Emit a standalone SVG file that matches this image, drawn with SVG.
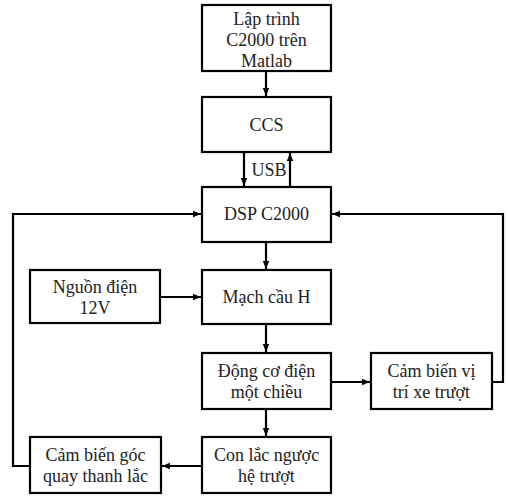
<svg xmlns="http://www.w3.org/2000/svg" width="508" height="496" viewBox="0 0 508 496">
<defs>
<marker id="ah" markerWidth="8" markerHeight="8" viewBox="0 0 8 8" refX="8" refY="4" orient="auto" markerUnits="userSpaceOnUse">
<path d="M0,0.8 L8,4 L0,7.2 Z" fill="#000"/>
</marker>
</defs>
<style>
.box{fill:#fff;stroke:#000;stroke-width:2.2}
.ln{fill:none;stroke:#000;stroke-width:2.2;marker-end:url(#ah)}
</style>
<rect width="508" height="496" fill="#fff"/>
<g id="connectors">
<path class="ln" d="M266,71 V96"/>
<path class="ln" d="M244,152 V186"/>
<path class="ln" d="M290,187 V153"/>
<path class="ln" d="M266,242 V269"/>
<path class="ln" d="M160,297 H201"/>
<path class="ln" d="M266,324 V352"/>
<path class="ln" d="M331,382 H370"/>
<path class="ln" d="M266,409 V436"/>
<path class="ln" d="M202,466 H162"/>
<path class="ln" d="M30,466 H13 V214 H201"/>
<path class="ln" d="M492,382 H503 V214 H332"/>
<text x="269" y="176" font-family="Liberation Serif" font-size="18" fill="#222" text-anchor="middle">USB</text>
</g>
<g id="n1"><rect class="box" x="202" y="5" width="129" height="66"/>
<text x="266.5" y="25" font-family="Liberation Serif" font-size="18" fill="#222" text-anchor="middle">Lập trình</text>
<text x="266.5" y="46" font-family="Liberation Serif" font-size="18" fill="#222" text-anchor="middle">C2000 trên</text>
<text x="266.5" y="67" font-family="Liberation Serif" font-size="18" fill="#222" text-anchor="middle">Matlab</text></g>
<g id="n2"><rect class="box" x="202" y="97" width="129" height="55"/>
<text x="266.5" y="131" font-family="Liberation Serif" font-size="18" fill="#222" text-anchor="middle">CCS</text></g>
<g id="n3"><rect class="box" x="202" y="187" width="129" height="55"/>
<text x="266.5" y="220" font-family="Liberation Serif" font-size="18" fill="#222" text-anchor="middle">DSP C2000</text></g>
<g id="n4"><rect class="box" x="30" y="270" width="130" height="53"/>
<text x="95" y="293" font-family="Liberation Serif" font-size="18" fill="#222" text-anchor="middle">Nguồn điện</text>
<text x="95" y="314" font-family="Liberation Serif" font-size="18" fill="#222" text-anchor="middle">12V</text></g>
<g id="n5"><rect class="box" x="202" y="270" width="129" height="54"/>
<text x="266.5" y="303" font-family="Liberation Serif" font-size="18" fill="#222" text-anchor="middle">Mạch cầu H</text></g>
<g id="n6"><rect class="box" x="202" y="353" width="129" height="56"/>
<text x="266.5" y="377" font-family="Liberation Serif" font-size="18" fill="#222" text-anchor="middle">Động cơ điện</text>
<text x="266.5" y="398" font-family="Liberation Serif" font-size="18" fill="#222" text-anchor="middle">một chiều</text></g>
<g id="n7"><rect class="box" x="371" y="353" width="121" height="56"/>
<text x="431.5" y="377" font-family="Liberation Serif" font-size="18" fill="#222" text-anchor="middle">Cảm biến vị</text>
<text x="431.5" y="398" font-family="Liberation Serif" font-size="18" fill="#222" text-anchor="middle">trí xe trượt</text></g>
<g id="n8"><rect class="box" x="202" y="437" width="129" height="56"/>
<text x="266.5" y="461" font-family="Liberation Serif" font-size="18" fill="#222" text-anchor="middle">Con lắc ngược</text>
<text x="266.5" y="482" font-family="Liberation Serif" font-size="18" fill="#222" text-anchor="middle">hệ trượt</text></g>
<g id="n9"><rect class="box" x="30" y="437" width="131" height="56"/>
<text x="95.5" y="461" font-family="Liberation Serif" font-size="18" fill="#222" text-anchor="middle">Cảm biến góc</text>
<text x="95.5" y="482" font-family="Liberation Serif" font-size="18" fill="#222" text-anchor="middle">quay thanh lắc</text></g>
</svg>
